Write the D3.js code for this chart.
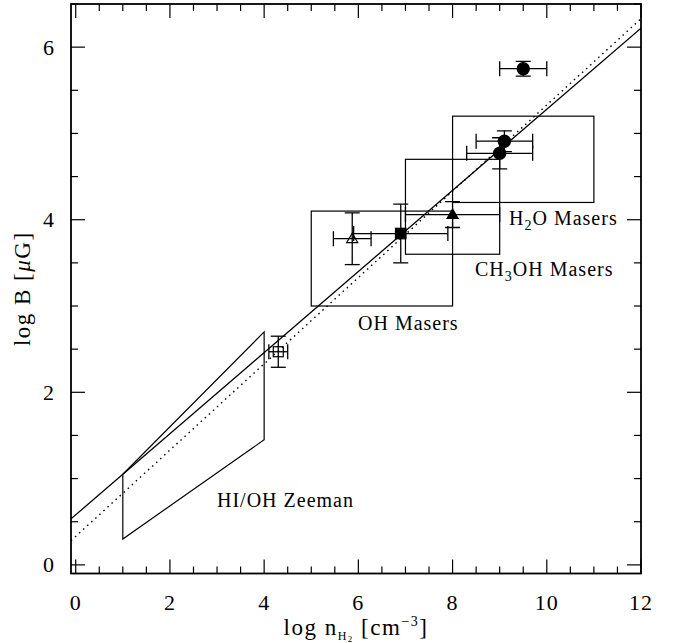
<!DOCTYPE html>
<html>
<head>
<meta charset="utf-8">
<script src="https://cdn.jsdelivr.net/npm/d3@7"></script>
<style>
  body { margin: 0; background: #fff; }
  text { font-family: "Liberation Serif", "DejaVu Serif", serif; fill: #000; }
</style>
</head>
<body>
<svg></svg>
<script>
var w = 678;
var h = 643;

// fit lines: log B = a + b * log n
var fitSolid = { a: 0.58, b: 0.47 };
var fitDotted = { a: 0.33, b: 0.5 };

// HI/OH Zeeman region (parallelogram)
var zeemanPoly = [[1, 1.05], [4, 2.7], [4, 1.45], [1, 0.3]];

// maser boxes
var boxes = [
  { name: "OH", x0: 5, x1: 8, y0: 3.0, y1: 4.1 },
  { name: "CH3OH", x0: 7, x1: 9, y0: 3.6, y1: 4.7 },
  { name: "H2O", x0: 8, x1: 11, y0: 4.2, y1: 5.2 }
];

// data points with errors
var points = [
  { x: 4.3, y: 2.47, ex: 0.2, ey: 0.18, sym: "openSquare" },
  { x: 5.87, y: 3.78, ex: 0.4, ey: 0.3, sym: "openTriangle" },
  { x: 6.9, y: 3.84, ex: 1.0, ey: 0.34, sym: "square" },
  { x: 8.0, y: 4.06, ex: 1.0, ey: 0.15, sym: "triangle" },
  { x: 9.0, y: 4.77, ex: 0.7, ey: 0.18, sym: "circle" },
  { x: 9.1, y: 4.91, ex: 0.6, ey: 0.12, sym: "circle" },
  { x: 9.5, y: 5.75, ex: 0.5, ey: 0.085, sym: "circle" }
];

var xMajor = [0, 2, 4, 6, 8, 10, 12];
var yMajor = [0, 2, 4, 6];

var pL = 71, pR = 641, pT = 4, pB = 573.5;

var x = d3.scaleLinear().domain([-0.1, 12]).range([pL, pR]);
var y = d3.scaleLinear().domain([-0.1, 6.5]).range([pB, pT]);

var svg = d3.select("svg").attr("width", w).attr("height", h);

svg.append("clipPath").attr("id", "clip")
  .append("rect").attr("x", pL).attr("y", pT)
  .attr("width", pR - pL).attr("height", pB - pT);

var xMinor = d3.range(0, 12.01, 0.5);
var yMinor = d3.range(0, 6.51, 0.5);

// ticks on all four sides, pointing inward
var ticks = svg.append("g").attr("stroke", "#000").attr("stroke-width", 1.2);
xMinor.forEach(function (v) {
  var len = v % 2 === 0 ? 14 : 7;
  ticks.append("line").attr("x1", x(v)).attr("x2", x(v)).attr("y1", pB).attr("y2", pB - len);
  ticks.append("line").attr("x1", x(v)).attr("x2", x(v)).attr("y1", pT).attr("y2", pT + len);
});
yMinor.forEach(function (v) {
  var len = v % 2 === 0 ? 14 : 7;
  ticks.append("line").attr("y1", y(v)).attr("y2", y(v)).attr("x1", pL).attr("x2", pL + len);
  ticks.append("line").attr("y1", y(v)).attr("y2", y(v)).attr("x1", pR).attr("x2", pR - len);
});

// tick labels
svg.append("g").selectAll("text").data(xMajor).enter().append("text")
  .attr("x", function (d) { return x(d); })
  .attr("y", 610)
  .attr("text-anchor", "middle")
  .attr("font-size", 22)
  .attr("letter-spacing", 1)
  .text(function (d) { return d; });

svg.append("g").selectAll("text").data(yMajor).enter().append("text")
  .attr("x", 54)
  .attr("y", function (d) { return y(d) + 7.5; })
  .attr("text-anchor", "end")
  .attr("font-size", 22)
  .text(function (d) { return d; });

// frame
svg.append("rect")
  .attr("x", pL).attr("y", pT)
  .attr("width", pR - pL).attr("height", pB - pT)
  .attr("fill", "none").attr("stroke", "#000").attr("stroke-width", 1.8);

var plot = svg.append("g").attr("clip-path", "url(#clip)");

var line = d3.line().x(function (d) { return x(d[0]); }).y(function (d) { return y(d[1]); });

function fitPts(f) {
  return [[-0.1, f.a - 0.1 * f.b], [12, f.a + 12 * f.b]];
}

plot.append("path").attr("d", line(fitPts(fitSolid)))
  .attr("fill", "none").attr("stroke", "#000").attr("stroke-width", 1.3);
plot.append("path").attr("d", line(fitPts(fitDotted)))
  .attr("fill", "none").attr("stroke", "#000").attr("stroke-width", 1.4)
  .attr("stroke-dasharray", "1.5,4");

// Zeeman parallelogram
plot.append("path").attr("d", line(zeemanPoly) + "Z")
  .attr("fill", "none").attr("stroke", "#000").attr("stroke-width", 1.2);

// boxes
plot.selectAll("rect.box").data(boxes).enter().append("rect")
  .attr("class", "box")
  .attr("x", function (d) { return x(d.x0); })
  .attr("y", function (d) { return y(d.y1); })
  .attr("width", function (d) { return x(d.x1) - x(d.x0); })
  .attr("height", function (d) { return y(d.y0) - y(d.y1); })
  .attr("fill", "none").attr("stroke", "#000").attr("stroke-width", 1.2);

// error bars
var cap = 7.5;
var eb = plot.append("g").attr("stroke", "#000").attr("stroke-width", 1.3);
points.forEach(function (p) {
  eb.append("line").attr("x1", x(p.x - p.ex)).attr("x2", x(p.x + p.ex)).attr("y1", y(p.y)).attr("y2", y(p.y));
  eb.append("line").attr("x1", x(p.x)).attr("x2", x(p.x)).attr("y1", y(p.y - p.ey)).attr("y2", y(p.y + p.ey));
  [p.x - p.ex, p.x + p.ex].forEach(function (v) {
    eb.append("line").attr("x1", x(v)).attr("x2", x(v)).attr("y1", y(p.y) - cap).attr("y2", y(p.y) + cap);
  });
  [p.y - p.ey, p.y + p.ey].forEach(function (v) {
    eb.append("line").attr("y1", y(v)).attr("y2", y(v)).attr("x1", x(p.x) - cap).attr("x2", x(p.x) + cap);
  });
});

// markers
var marks = plot.append("g");
points.forEach(function (p) {
  var cx = x(p.x), cy = y(p.y);
  if (p.sym === "circle") {
    marks.append("circle").attr("cx", cx).attr("cy", cy).attr("r", 6.7).attr("fill", "#000");
  } else if (p.sym === "square" || p.sym === "openSquare") {
    var s = p.sym === "square" ? 10.5 : 10;
    marks.append("rect").attr("x", cx - s / 2).attr("y", cy - s / 2).attr("width", s).attr("height", s)
      .attr("fill", p.sym === "square" ? "#000" : "none")
      .attr("stroke", "#000").attr("stroke-width", 1.2);
  } else {
    var t = 5.5;
    var tri = [[cx - t, cy + t * 0.7], [cx + t, cy + t * 0.7], [cx, cy - t * 1.0]];
    marks.append("path").attr("d", "M" + tri.join("L") + "Z")
      .attr("fill", p.sym === "triangle" ? "#000" : "none")
      .attr("stroke", "#000").attr("stroke-width", 1.2);
  }
});

// annotations
var ann = svg.append("g").attr("font-size", 20).attr("letter-spacing", 1);
ann.append("text").attr("x", 217).attr("y", 507).text("HI/OH Zeeman");
ann.append("text").attr("x", 358).attr("y", 330).text("OH Masers");
var ch = ann.append("text").attr("x", 475).attr("y", 276);
ch.append("tspan").text("CH");
ch.append("tspan").attr("font-size", 14).attr("dy", 5).text("3");
ch.append("tspan").attr("dy", -5).text("OH Masers");
var h2o = ann.append("text").attr("x", 509).attr("y", 225);
h2o.append("tspan").text("H");
h2o.append("tspan").attr("font-size", 14).attr("dy", 5).text("2");
h2o.append("tspan").attr("dy", -5).text("O Masers");

// axis titles
var xt = svg.append("text").attr("x", 356).attr("y", 635).attr("text-anchor", "middle")
  .attr("font-size", 23).attr("letter-spacing", 1.5);
xt.append("tspan").text("log n");
xt.append("tspan").attr("font-size", 12).attr("dy", 5).text("H");
xt.append("tspan").attr("font-size", 9).attr("dy", 2).text("2");
xt.append("tspan").attr("dy", -7).text(" [cm");
xt.append("tspan").attr("font-size", 14).attr("dy", -9).text("−3");
xt.append("tspan").attr("dy", 9).text("]");

var yt = svg.append("text")
  .attr("transform", "translate(30," + ((pT + pB) / 2) + ") rotate(-90)")
  .attr("text-anchor", "middle").attr("font-size", 23).attr("letter-spacing", 1.5);
yt.append("tspan").text("log B [");
yt.append("tspan").attr("font-style", "italic").text("μ");
yt.append("tspan").text("G]");
</script>
</body>
</html>
